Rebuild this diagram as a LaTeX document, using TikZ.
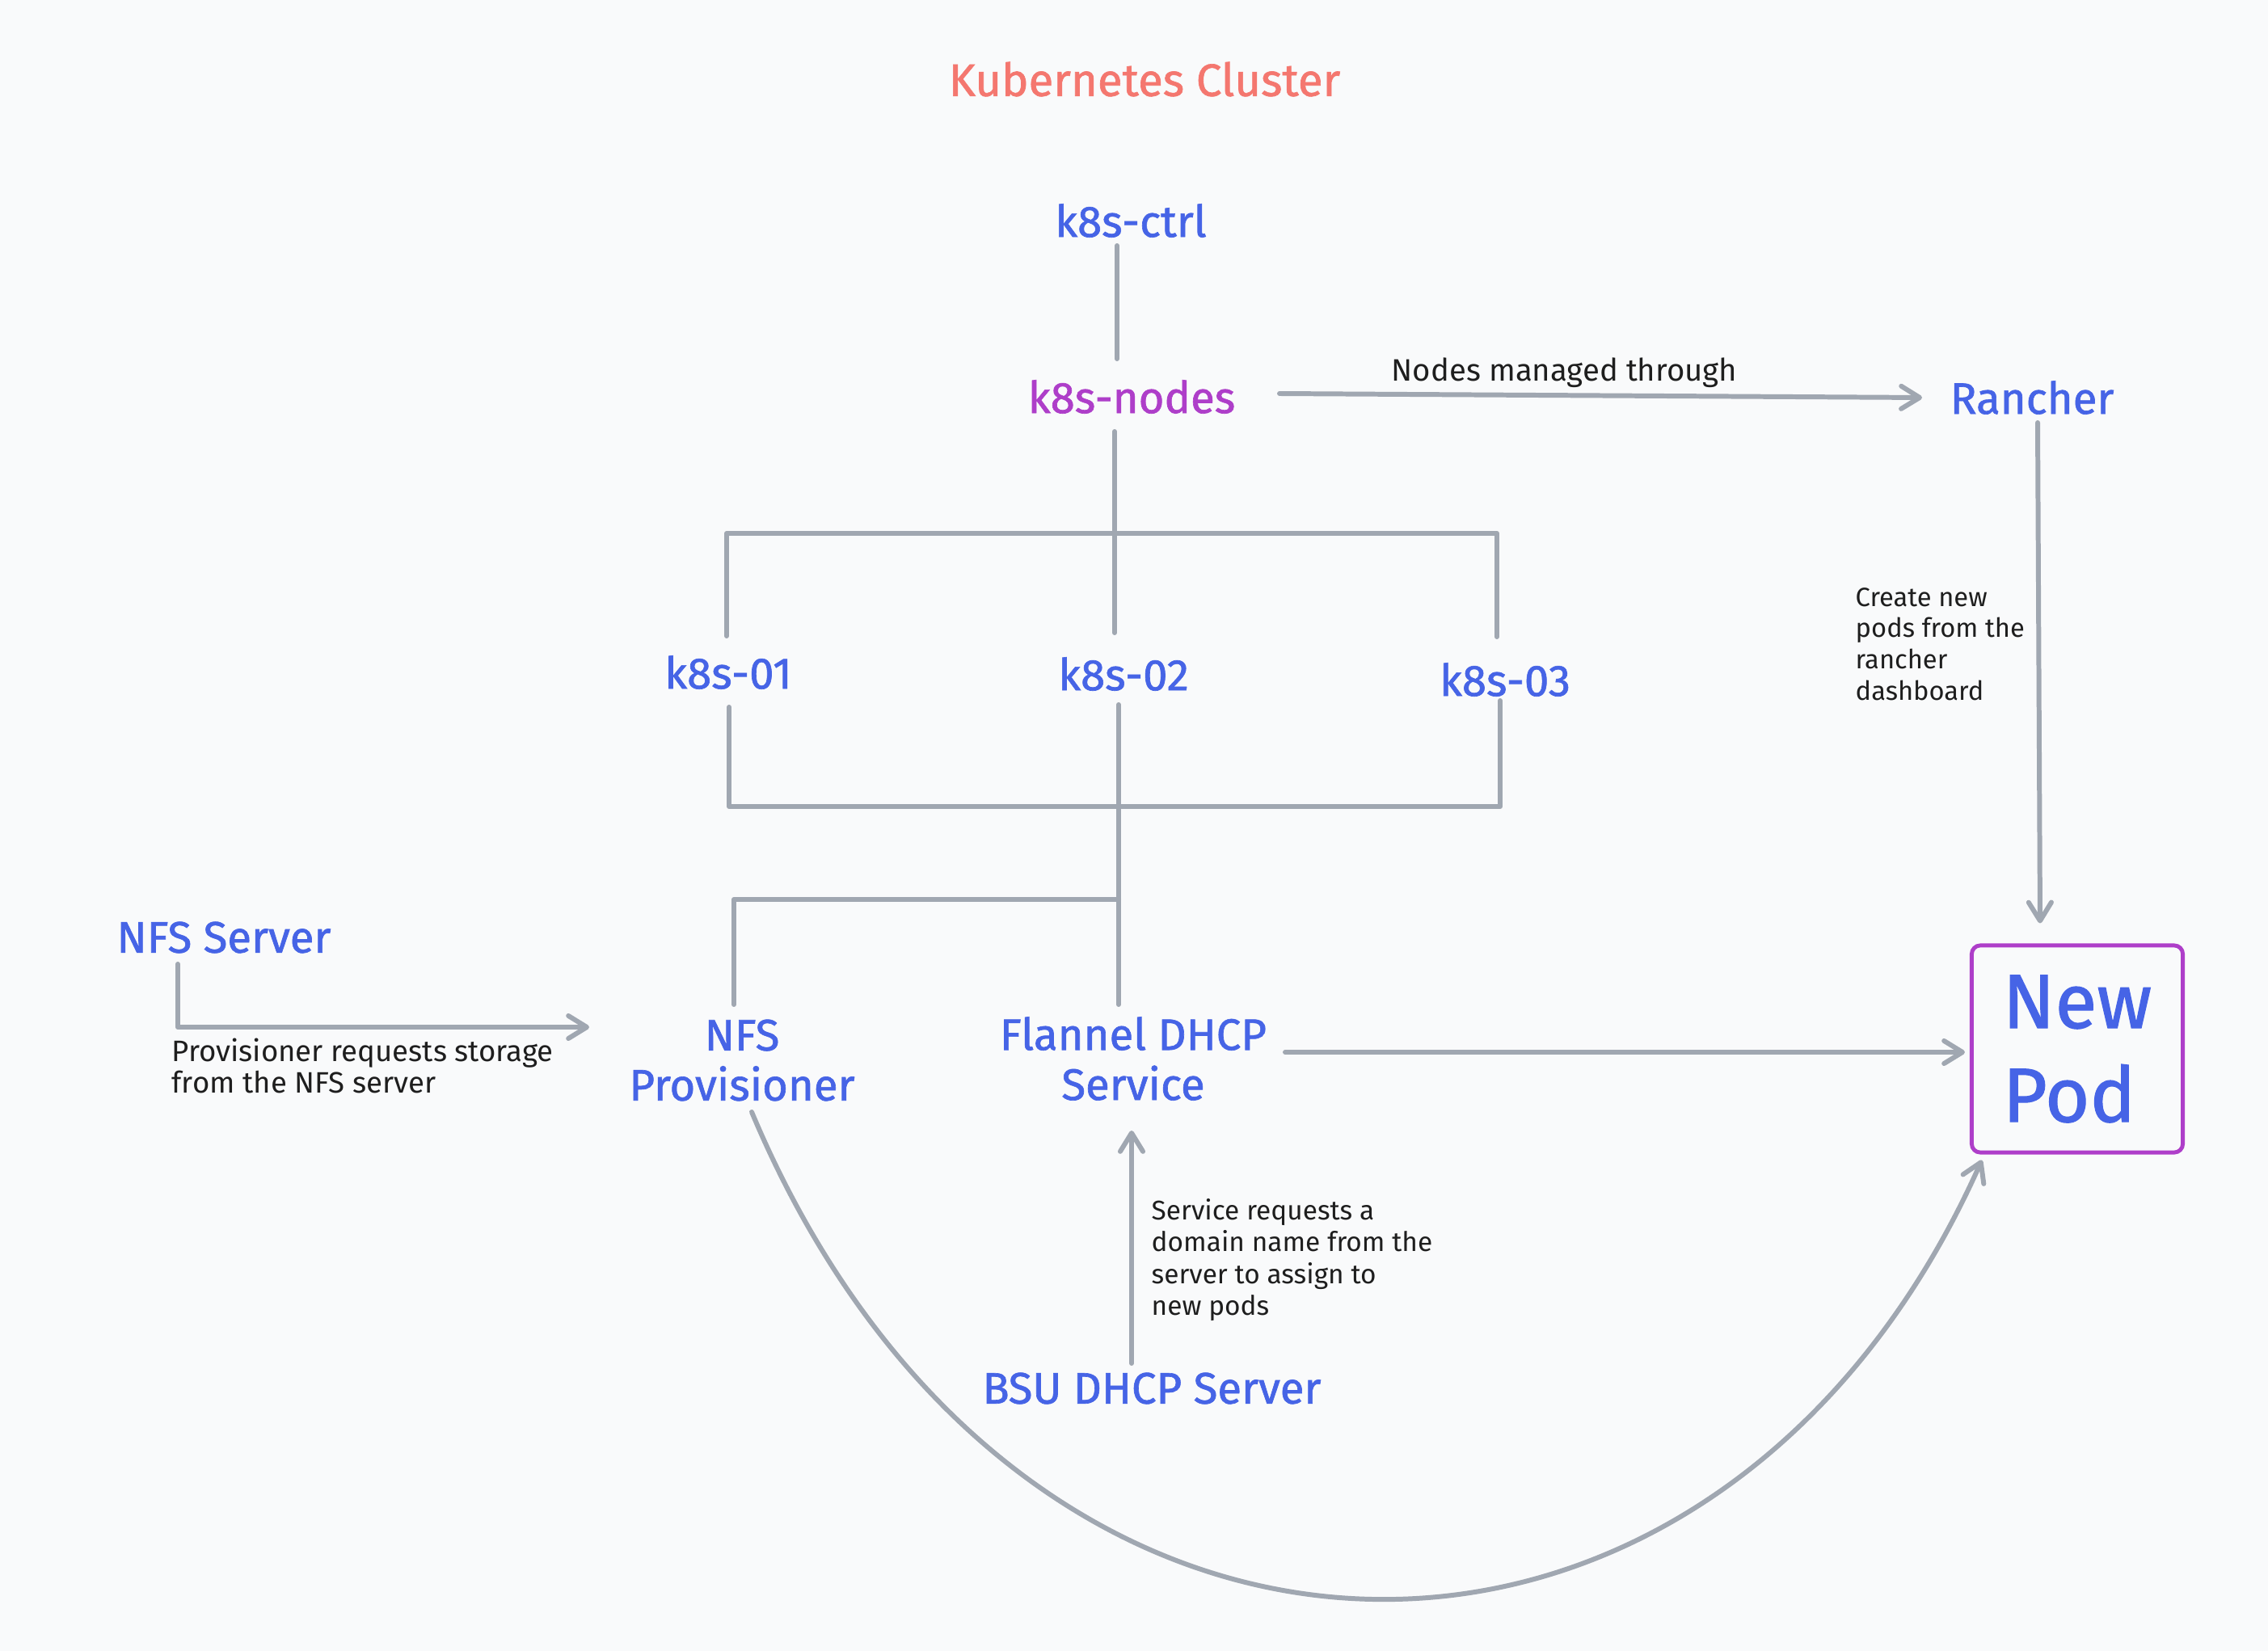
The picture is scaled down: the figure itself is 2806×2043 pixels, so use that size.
\documentclass[tikz,border=0pt]{standalone}
\usepackage{fontspec}
\setmainfont{Fira Sans}
\newfontfamily\heavyfont{Fira Sans}[FakeBold=1.2]
\usetikzlibrary{arrows.meta}
\definecolor{bgc}{HTML}{F9FAFB}
\definecolor{nodeblue}{HTML}{4664E6}
\definecolor{nodepurple}{HTML}{AE3EC9}
\definecolor{titlered}{HTML}{F4776F}
\definecolor{linegray}{HTML}{A0A7B1}
\definecolor{inkblack}{HTML}{1E1E1E}
\begin{document}
\begin{tikzpicture}[x=0.01cm,y=-0.01cm,
  lbl/.style={text=nodeblue, font=\heavyfont\fontsize{15.5}{17.6}\selectfont, inner sep=0pt, align=center},
  note/.style={text=inkblack, font=\fontsize{10.4}{11.2}\selectfont, inner sep=0pt, align=left, anchor=west},
  conn/.style={draw=linegray, line width=1.7pt, line cap=round, line join=round},
  arr/.style={conn, -{Straight Barb[length=6.5pt,width=8pt,round]}}
]
\fill[bgc] (0,0) rectangle (2806,2043);
\useasboundingbox (0,0) rectangle (2806,2043);

% title
\node[text=titlered, font=\heavyfont\fontsize{16}{19}\selectfont, inner sep=0pt] (title) at (1416,98) {Kubernetes Cluster};

% nodes
\node[lbl] (ctrl) at (1399,273) {k8s-ctrl};
\node[lbl, text=nodepurple] (nodes) at (1400,491) {k8s-nodes};
\node[lbl] (rancher) at (2514,492) {Rancher};
\node[lbl] (k01) at (901,832) {k8s-01};
\node[lbl] (k02) at (1390,834) {k8s-02};
\node[lbl] (k03) at (1862,841) {k8s-03};
\node[lbl] (nfsserver) at (277,1160) {NFS Server};
\node[lbl] (nfsprov) at (918,1312) {NFS\\Provisioner};
\node[lbl] (flannel) at (1402,1310) {Flannel DHCP\\Service};
\node[lbl] (bsu) at (1425,1718) {BSU DHCP Server};
\node[draw=nodepurple, line width=1.4pt, rounded corners=3pt, minimum width=2.61cm, minimum height=2.56cm,
      text=nodeblue, font=\heavyfont\fontsize{27}{33}\selectfont, align=left, inner sep=0pt] (newpod) at (2570,1298) {New\\Pod};

% notes
\node[note, font=\fontsize{10.9}{11.2}\selectfont] (n1) at (1721,461) {Nodes managed through};
\node[note, font=\fontsize{9.3}{11}\selectfont] (n2) at (2295,797) {Create new\\pods from the\\rancher\\dashboard};
\node[note] (n3) at (212,1319) {Provisioner requests storage\\from the NFS server};
\node[note, font=\fontsize{9.5}{11.2}\selectfont] (n4) at (1424,1559) {Service requests a\\domain name from the\\server to assign to\\new pods};

% junctions
\coordinate (J1) at (1379,660);
\coordinate (J2) at (1384,998);
\coordinate (J3) at (1384,1113);

% connectors
\draw[conn] ([shift={(-17,31)}]ctrl.center) -- ([shift={(-18,-47)}]nodes.center);
\draw[arr] ([shift={(183,-4)}]nodes.center) -- ([shift={(-136,0)}]rancher.center);
\draw[conn] ([shift={(-21,43)}]nodes.center) -- (J1);
\draw[conn] ([shift={(-2,-45)}]k01.center) |- (J1) -| ([shift={(-10,-53)}]k03.center);
\draw[conn] (J1) -- ([shift={(-11,-51)}]k02.center);
\draw[conn] ([shift={(1,43)}]k01.center) |- (J2) -| ([shift={(-6,26)}]k03.center);
\draw[conn] ([shift={(-6,38)}]k02.center) -- (J2);
\draw[conn] (J2) -- ([shift={(-18,-67)}]flannel.center);
\draw[conn] (J3) -| ([shift={(-10,-69)}]nfsprov.center);
\draw[arr] ([shift={(-57,33)}]nfsserver.center) |- ([shift={(-189,-41)}]nfsprov.center);
\draw[arr] ([shift={(188,-8)}]flannel.center) -- ([shift={(-6,4)}]newpod.west);
\draw[arr] ([shift={(7,31)}]rancher.center) -- ([shift={(-46,-25)}]newpod.north);
\draw[arr] ([shift={(-25,-31)}]bsu.center) -- ([shift={(-2,89)}]flannel.center);
\draw[arr] ([shift={(12,64)}]nfsprov.center) .. controls (1263,2169) and (2125,2169) .. ([shift={(15,7)}]newpod.south west);
\end{tikzpicture}
\end{document}
